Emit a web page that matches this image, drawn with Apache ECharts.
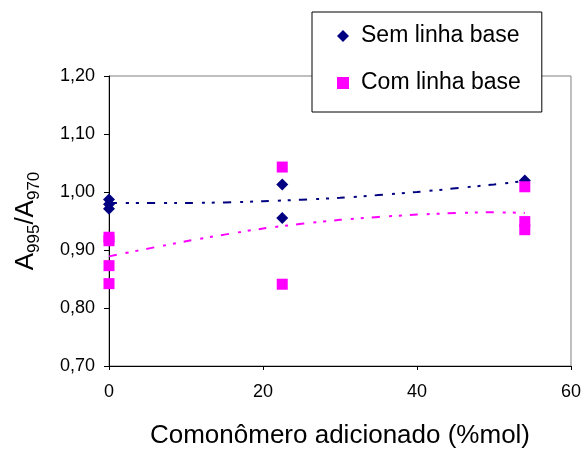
<!DOCTYPE html>
<html>
<head>
<meta charset="utf-8">
<script src="https://cdn.jsdelivr.net/npm/echarts@6/dist/echarts.min.js"></script>
<style>
  html, body { margin: 0; padding: 0; background: #fff; overflow: hidden; }
  #chart { width: 584px; height: 454px; }
</style>
</head>
<body>
<div id="chart"></div>
<script>
// Measured points
const semX = [0, 0, 0, 22.5, 22.5, 54];
const semY = [0.987, 0.979, 0.971, 1.013, 0.955, 1.020];
const comX = [0, 0, 0, 0, 22.5, 22.5, 54, 54, 54];
const comY = [0.922, 0.916, 0.873, 0.842, 1.043, 0.841, 1.009, 0.949, 0.935];

// Polynomial trend curves, sampled along x
const trendX = [0, 10, 20, 30, 40, 50, 54];
const semTrend = [0.981, 0.981, 0.984, 0.990, 1.000, 1.013, 1.019];
const comTrend = [0.889, 0.915, 0.937, 0.952, 0.961, 0.965, 0.964];

const xTicks = [0, 20, 40, 60];
const yTicks = [0.70, 0.80, 0.90, 1.00, 1.10, 1.20];

const NAVY = '#000080';
const MAGENTA = '#FF00FF';
const FONT = 'Liberation Sans, Arial, sans-serif';
const DASH = [8, 9, 3, 7, 3, 8];

const pairs = (xs, ys) => xs.map((x, i) => [x, ys[i]]);

const chart = echarts.init(document.getElementById('chart'), null, { renderer: 'canvas' });

chart.setOption({
  animation: false,
  backgroundColor: '#fff',
  textStyle: { fontFamily: FONT, color: '#000' },
  grid: {
    left: 109, right: 12, top: 76, bottom: 82,
    show: true, borderColor: '#808080', borderWidth: 1
  },
  legend: {
    data: ['Sem linha base', 'Com linha base'],
    orient: 'vertical',
    left: 312, top: 12,
    padding: [12, 21, 17, 25],
    itemGap: 23,
    itemWidth: 12, itemHeight: 12,
    backgroundColor: '#fff',
    borderColor: '#000', borderWidth: 1,
    textStyle: { fontFamily: FONT, fontSize: 23, color: '#000', lineHeight: 24, padding: [0, 0, 0, 7] }
  },
  xAxis: {
    type: 'value',
    min: xTicks[0], max: xTicks[xTicks.length - 1], interval: 20,
    name: 'Comonômero adicionado (%mol)',
    nameLocation: 'middle', nameGap: 57,
    nameTextStyle: { fontFamily: FONT, fontSize: 26, color: '#000' },
    axisLine: { onZero: false, lineStyle: { color: '#000', width: 1 } },
    axisTick: { show: true, length: 4, lineStyle: { color: '#000' } },
    axisLabel: { fontFamily: FONT, fontSize: 18, color: '#000', margin: 17 },
    splitLine: { show: false }
  },
  yAxis: {
    type: 'value',
    min: yTicks[0], max: yTicks[yTicks.length - 1], interval: 0.1,
    name: '{a|A}{s|995}{a|/A}{s|970}',
    nameLocation: 'middle', nameGap: 66, nameRotate: 90,
    nameTextStyle: {
      fontFamily: FONT, color: '#000',
      rich: {
        a: { fontFamily: FONT, fontSize: 26, lineHeight: 34, color: '#000' },
        s: { fontFamily: FONT, fontSize: 17, lineHeight: 17, verticalAlign: 'bottom', color: '#000' }
      }
    },
    axisLine: { onZero: false, lineStyle: { color: '#000', width: 1 } },
    axisTick: { show: true, length: 5, lineStyle: { color: '#000' } },
    axisLabel: {
      fontFamily: FONT, fontSize: 18, color: '#000', margin: 14,
      formatter: v => v.toFixed(2).replace('.', ',')
    },
    splitLine: { show: false }
  },
  series: [
    {
      name: 'Sem linha base trend',
      type: 'line',
      data: pairs(trendX, semTrend),
      smooth: 0.25,
      showSymbol: false,
      symbol: 'none',
      lineStyle: { color: NAVY, width: 2, type: DASH },
      z: 1,
      silent: true
    },
    {
      name: 'Com linha base trend',
      type: 'line',
      data: pairs(trendX, comTrend),
      smooth: 0.25,
      showSymbol: false,
      symbol: 'none',
      lineStyle: { color: MAGENTA, width: 2, type: DASH },
      z: 1,
      silent: true
    },
    {
      name: 'Sem linha base',
      type: 'scatter',
      symbol: 'diamond',
      symbolSize: 12,
      itemStyle: { color: NAVY, opacity: 1 },
      data: pairs(semX, semY),
      z: 3
    },
    {
      name: 'Com linha base',
      type: 'scatter',
      symbol: 'rect',
      symbolSize: 11,
      itemStyle: { color: MAGENTA, opacity: 1 },
      data: pairs(comX, comY),
      z: 4
    }
  ]
});
</script>
</body>
</html>
